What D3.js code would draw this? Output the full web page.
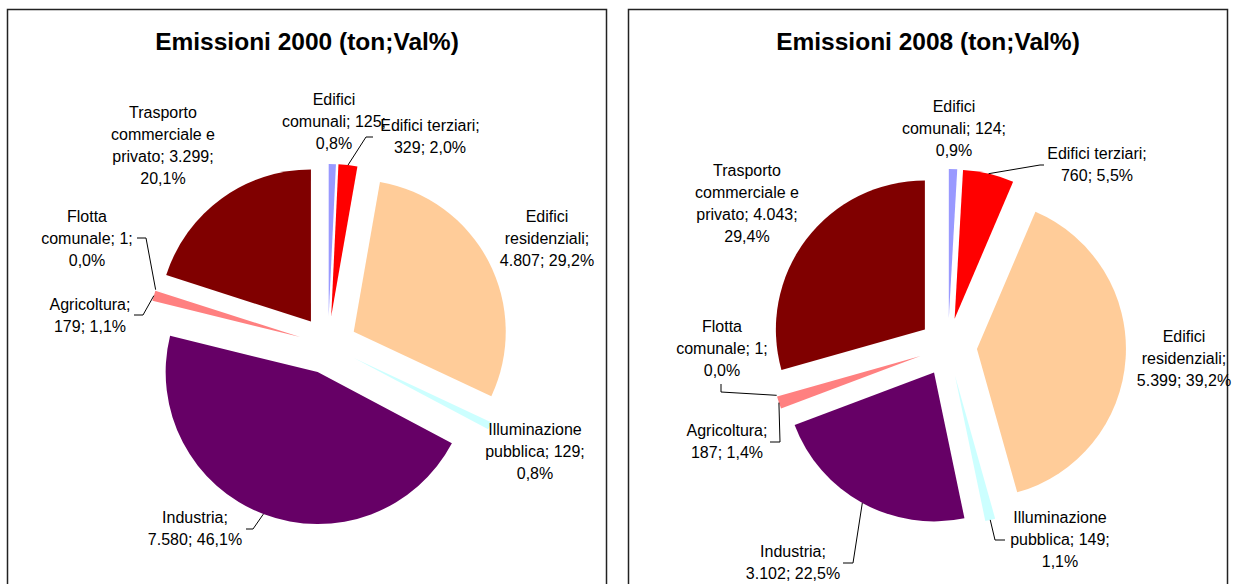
<!DOCTYPE html>
<html>
<head>
<meta charset="utf-8">
<script src="https://cdn.jsdelivr.net/npm/d3@7"></script>
<style>
  html, body { margin: 0; padding: 0; background: #fff; }
  svg { display: block; font-family: Arial, "Liberation Sans", sans-serif; }
</style>
</head>
<body>
<div id="chart"></div>
<script>
// ---- data ----
const categories = [
  "Edifici comunali", "Edifici terziari", "Edifici residenziali",
  "Illuminazione pubblica", "Industria", "Agricoltura",
  "Flotta comunale", "Trasporto commerciale e privato"
];
const values2000 = [125, 329, 4807, 129, 7580, 179, 1, 3299];
const values2008 = [124, 760, 5399, 149, 3102, 187, 1, 4043];
const titles = ["Emissioni 2000 (ton;Val%)", "Emissioni 2008 (ton;Val%)"];
const sliceColors = ["#9999FF", "#FF0000", "#FFCC99", "#CCFFFF", "#660066", "#FF8080", "#0066CC", "#800000"];

// words per label line (how Excel wrapped each label)
const wrap2000 = [[1, 2, 1], [2, 2], [1, 1, 2], [1, 2, 1], [1, 2], [1, 2], [1, 2, 1], [1, 2, 2, 1]];
const wrap2008 = [[1, 2, 1], [2, 2], [1, 1, 2], [1, 2, 1], [1, 2], [1, 2], [1, 2, 1], [1, 2, 2, 1]];

// ---- layout ----
const W = 1241, H = 584;
const layouts = [
  {
    box: [7, 9, 599], titleX: 307, titleY: 50,
    cx: 328, cy: 345, r: 152, explode: 29,
    labels: [
      { x: 334, y: 100 }, { x: 430, y: 126, leader: [[373, 137], [366, 137]] },
      { x: 547, y: 217 }, { x: 535, y: 430 },
      { x: 195, y: 518, leader: [[246, 529], [253, 529]] },
      { x: 90, y: 305, leader: [[134, 315], [143, 315]] },
      { x: 87, y: 217, leader: [[137, 238], [146, 238]] },
      { x: 163, y: 113 }
    ]
  },
  {
    box: [628, 9, 599], titleX: 928, titleY: 50,
    cx: 948, cy: 347, r: 149, explode: 29,
    labels: [
      { x: 954, y: 107 }, { x: 1097, y: 154, leader: [[1044, 165], [1040, 165]] },
      { x: 1184, y: 337 },
      { x: 1060, y: 518, leader: [[1005, 540], [995, 540]] },
      { x: 793, y: 552, leader: [[843, 563], [853, 563]] },
      { x: 727, y: 431, leader: [[770, 442], [780, 442]] },
      { x: 722, y: 327, leader: [[721, 384], [721, 392]] },
      { x: 747, y: 171 }
    ]
  }
];

const it = d3.formatLocale({ decimal: ",", thousands: ".", grouping: [3], currency: ["", "€"] });
const fmtInt = it.format(",d");
const fmtPct = it.format(".1f");

const svg = d3.select("#chart").append("svg")
  .attr("width", W).attr("height", H);

function drawPie(values, wrap, title, L) {
  const g = svg.append("g");
  const total = d3.sum(values);
  const data = categories.map((c, i) => ({ name: c, value: values[i], color: sliceColors[i], wrap: wrap[i], lab: L.labels[i] }));

  // box
  g.append("rect")
    .attr("x", L.box[0] + 0.5).attr("y", L.box[1] + 0.5)
    .attr("width", L.box[2]).attr("height", H + 20)
    .attr("fill", "#fff").attr("stroke", "#222").attr("stroke-width", 1.5);

  g.append("text")
    .attr("x", L.titleX).attr("y", L.titleY)
    .attr("text-anchor", "middle")
    .attr("font-size", 24.5).attr("font-weight", "bold")
    .text(title);

  const pie = d3.pie().sort(null).value(d => d.value).startAngle(0).endAngle(2 * Math.PI);
  const arcs = pie(data);
  const arc = d3.arc().innerRadius(0).outerRadius(L.r);

  const mid = a => (a.startAngle + a.endAngle) / 2;

  g.selectAll("path.slice")
    .data(arcs)
    .join("path")
    .attr("class", "slice")
    .attr("fill", d => d.data.color)
    .attr("transform", d => {
      const m = mid(d);
      return `translate(${L.cx + L.explode * Math.sin(m)},${L.cy - L.explode * Math.cos(m)})`;
    })
    .attr("d", arc);

  // leader lines
  arcs.forEach(a => {
    const lab = a.data.lab;
    if (!lab.leader) return;
    const m = mid(a);
    const R = L.r + L.explode;
    const end = [L.cx + R * Math.sin(m), L.cy - R * Math.cos(m)];
    const pts = lab.leader.concat([end]);
    g.append("path")
      .attr("d", d3.line()(pts))
      .attr("fill", "none").attr("stroke", "#000").attr("stroke-width", 1);
  });

  // labels
  arcs.forEach(a => {
    const d = a.data;
    const pct = fmtPct(d.value / total * 100) + "%";
    const words = `${d.name}; ${fmtInt(d.value)}; ${pct}`.split(" ");
    const lines = [];
    let k = 0;
    d.wrap.forEach(n => { lines.push(words.slice(k, k + n).join(" ")); k += n; });
    const t = g.append("text")
      .attr("text-anchor", "middle")
      .attr("font-size", 16)
      .attr("fill", "#000");
    lines.forEach((ln, i) => {
      t.append("tspan")
        .attr("x", d.lab.x)
        .attr("y", d.lab.y + 5 + i * 22)
        .text(ln);
    });
  });
}

drawPie(values2000, wrap2000, titles[0], layouts[0]);
drawPie(values2008, wrap2008, titles[1], layouts[1]);
</script>
</body>
</html>
